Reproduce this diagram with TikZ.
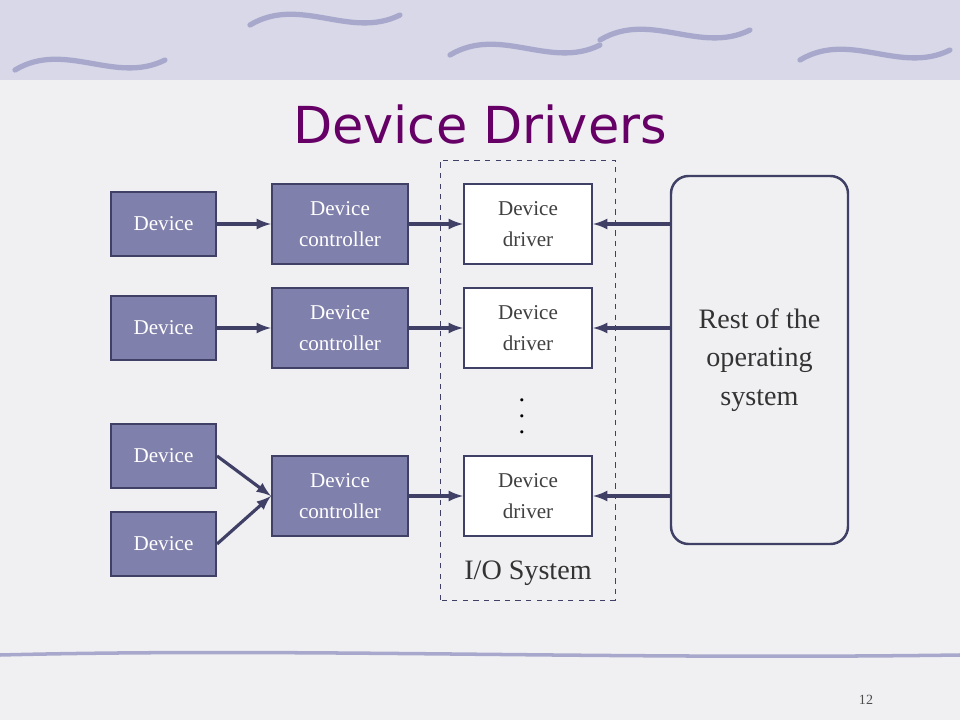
\documentclass[tikz,border=0pt]{standalone}
\usepackage{fontspec}
\setmainfont{Liberation Serif}
\newfontfamily\titlefont{DejaVu Sans}
\usetikzlibrary{positioning}
\definecolor{boxfill}{HTML}{8080AC}
\definecolor{boxline}{HTML}{404066}
\definecolor{titlepurple}{HTML}{660066}
\definecolor{slidebg}{HTML}{F0F0F3}
\definecolor{swoosh}{HTML}{A8A8CC}

\tikzset{
  device/.style={draw=boxline,line width=1.2pt,fill=boxfill,text=white,minimum width=2.1cm,minimum height=1.28cm,font=\fontsize{12}{18}\selectfont},
  controller/.style={device,minimum width=2.72cm,minimum height=1.6cm,align=center},
  driver/.style={draw=boxline,line width=1.2pt,fill=white,text=black!75,minimum width=2.56cm,minimum height=1.6cm,align=center,font=\fontsize{12}{18}\selectfont},
  link/.style={->,>=latex,draw=boxline,line width=1.8pt},
  dot/.style={font=\fontsize{15}{15}\selectfont,inner sep=0pt}
}

\begin{document}
\begin{tikzpicture}[x=1cm,y=1cm]
\useasboundingbox (0,0) rectangle (19.2,14.4);
\fill[slidebg] (0,0) rectangle (19.2,14.4);
\fill[swoosh!45] (0,12.8) rectangle (19.2,14.4);
% top swooshes
\foreach \a/\b in {0.3/13.0,5/13.9,9/13.3,12/13.6,16/13.2}{
  \draw[swoosh,line width=3pt,line cap=round] (\a,\b) .. controls (\a+1,\b+0.6) and (\a+2,\b-0.3) .. (\a+3,\b+0.2);
}
% bottom line
\draw[swoosh,line width=2pt] (0,1.3) .. controls (6,1.45) and (12,1.2) .. (19.2,1.3);

\node[text=titlepurple,font=\titlefont\fontsize{29}{34}\selectfont] (title) at (9.6,11.9) {Device Drivers};

\draw[dashed,draw=boxline,thin] (8.8,2.4) rectangle (12.3,11.2);
\node[font=\fontsize{16}{18}\selectfont,text=black!80] (iolabel) at (10.56,2.94) {I/O System};

\node[device] (dev1) at (3.27,9.92) {Device};
\node[device] (dev2) at (3.27,7.84) {Device};
\node[device] (dev3) at (3.27,5.28) {Device};
\node[device] (dev4) at (3.27,3.52) {Device};

\node[controller] (ctrl1) at (6.8,9.92) {Device\\controller};
\node[controller] (ctrl2) at (6.8,7.84) {Device\\controller};
\node[controller] (ctrl3) at (6.8,4.48) {Device\\controller};

\node[driver] (drv1) at (10.56,9.92) {Device\\driver};
\node[driver] (drv2) at (10.56,7.84) {Device\\driver};
\node[driver] (drv3) at (10.56,4.48) {Device\\driver};
\node[dot] (dot1) at (10.44,6.4) {.};
\node[dot] (dot2) at (10.44,6.08) {.};
\node[dot] (dot3) at (10.44,5.76) {.};

\node[draw=boxline,line width=1.4pt,rounded corners=10pt,fill=slidebg,minimum width=3.54cm,minimum height=7.36cm,align=center,text=black!80,font=\fontsize{16}{22}\selectfont] (rest) at (15.19,7.2) {Rest of the\\operating\\system};

\draw[link] (dev1) -- (ctrl1);
\draw[link] (dev2) -- (ctrl2);
\draw[link] (dev3.east) -- (ctrl3.west);
\draw[link] (dev4.east) -- (ctrl3.west);
\draw[link] (ctrl1) -- (drv1);
\draw[link] (ctrl2) -- (drv2);
\draw[link] (ctrl3) -- (drv3);
\draw[link] (rest.west |- drv1) -- (drv1);
\draw[link] (rest.west |- drv2) -- (drv2);
\draw[link] (rest.west |- drv3) -- (drv3);

\node[font=\fontsize{8}{9}\selectfont,text=black!70] (pagenum) at (17.32,0.4) {12};
\end{tikzpicture}
\end{document}
